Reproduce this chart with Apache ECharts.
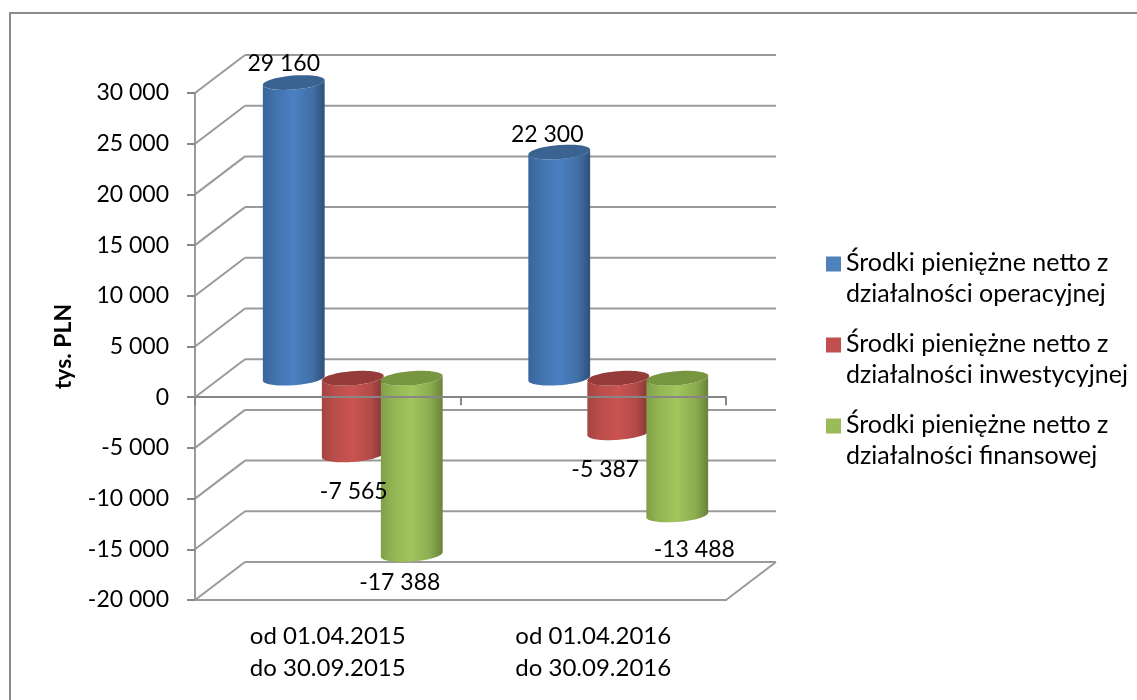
<!DOCTYPE html>
<html>
<head>
<meta charset="utf-8">
<style>html,body{margin:0;padding:0;background:#fff}#c{width:1137px;height:700px}</style>
<script src="https://cdn.jsdelivr.net/npm/echarts@6/dist/echarts.min.js"></script>
</head>
<body>
<div id="c"></div>
<script>
var categories = ['od 01.04.2015\ndo 30.09.2015', 'od 01.04.2016\ndo 30.09.2016'];
var seriesNames = [
  'Środki pieniężne netto z\ndziałalności operacyjnej',
  'Środki pieniężne netto z\ndziałalności inwestycyjnej',
  'Środki pieniężne netto z\ndziałalności finansowej'
];
var operacyjna = [29160, 22300];
var inwestycyjna = [-7565, -5387];
var finansowa = [-17388, -13488];
var yTicks = [30000, 25000, 20000, 15000, 10000, 5000, 0, -5000, -10000, -15000, -20000];

// label nudges relative to the cylinder end (dx, dy in px)
var labelNudgeOp = [[-10, -19], [-12, -17]];
var labelNudgeIn = [[1, 37], [-13, 37]];
var labelNudgeFi = [[-12, 28], [17, 35]];

var FONT = 'Lato';
var DEPTH_X = 50, DEPTH_Y = -38;   // full depth of the box
var MID_X = 25, MID_Y = -19;       // cylinders stand mid depth
var RX = 31, RY = 7, TILT = -4.5 * Math.PI / 180;
var STEP = 59;

function fmt(v) {
  var s = String(Math.abs(v)).replace(/\B(?=(\d{3})+$)/g, ' ');
  return (v < 0 ? '-' : '') + s;
}

function ell(cx, cy, a0, a1, n) {
  var pts = [];
  for (var i = 0; i <= n; i++) {
    var a = a0 + (a1 - a0) * i / n;
    var x = RX * Math.cos(a), y = RY * Math.sin(a);
    pts.push([cx + x * Math.cos(TILT) - y * Math.sin(TILT), cy + x * Math.sin(TILT) + y * Math.cos(TILT)]);
  }
  return pts;
}

function grad(stops) {
  return new echarts.graphic.LinearGradient(0, 0, 1, 0, stops);
}

function points(values) {
  return values.map(function (v, i) { return [i, v]; });
}

function cylinderSeries(name, values, idx, colors) {
  return {
    name: name,
    type: 'custom',
    z: 3 + idx,
    itemStyle: { color: colors.legend },
    data: points(values),
    encode: { x: 0, y: 1 },
    clip: false,
    renderItem: function (params, api) {
      var i = api.value(0), v = api.value(1);
      var base = api.coord([i, 0]);
      var end = api.coord([i, v]);
      var cx = base[0] + MID_X + (idx - 1) * STEP;
      var y0 = base[1] + MID_Y, y1 = end[1] + MID_Y;
      var top = Math.min(y0, y1), bot = Math.max(y0, y1);
      var body = ell(cx, top, Math.PI, 0, 40).concat(ell(cx, bot, 0, Math.PI, 40));
      return {
        type: 'group',
        children: [
          { type: 'polygon', shape: { points: body }, style: { fill: grad(colors.body) } },
          { type: 'polygon', shape: { points: ell(cx, top, 0, Math.PI * 2, 60) }, style: { fill: colors.cap } }
        ]
      };
    }
  };
}

function labelSeries(values, idx, nudges) {
  return {
    type: 'custom',
    z: 20,
    silent: true,
    data: points(values),
    encode: { x: 0, y: 1 },
    clip: false,
    renderItem: function (params, api) {
      var i = api.value(0), v = api.value(1);
      var base = api.coord([i, 0]);
      var end = api.coord([i, v]);
      var n = nudges[i];
      return { type: 'text', style: {
        x: base[0] + MID_X + (idx - 1) * STEP + n[0],
        y: end[1] + MID_Y + n[1],
        text: fmt(v), align: 'center', verticalAlign: 'middle',
        font: '23px ' + FONT, fill: '#000'
      } };
    }
  };
}

var wallSeries = {
  type: 'custom',
  silent: true,
  z: 1,
  clip: false,
  data: yTicks.map(function (t) { return [t]; }),
  encode: { y: 0 },
  renderItem: function (params, api) {
    var t = api.value(0);
    var p0 = api.coord([0, t]);
    var sz = api.size([1, 0]);
    var x0 = p0[0] - sz[0] / 2, y = p0[1];
    var x1 = x0 + sz[0] * categories.length;
    var ls = { stroke: '#9a9a9a', lineWidth: 2, fill: null };
    var kids = [
      { type: 'line', shape: { x1: x0, y1: y, x2: x0 + DEPTH_X, y2: y + DEPTH_Y }, style: ls },
      { type: 'line', shape: { x1: x0 + DEPTH_X, y1: y + DEPTH_Y, x2: x1 + DEPTH_X, y2: y + DEPTH_Y }, style: ls }
    ];
    if (t === yTicks[yTicks.length - 1]) {
      kids.push({ type: 'line', shape: { x1: x1, y1: y, x2: x1 + DEPTH_X, y2: y + DEPTH_Y }, style: ls });
    }
    return { type: 'group', children: kids };
  }
};

var blue = { legend: '#4f81bd', cap: '#3a6391',
  body: [{offset:0,color:'#38659a'},{offset:0.2,color:'#4273ae'},{offset:0.5,color:'#4a80c2'},{offset:0.8,color:'#416fa6'},{offset:1,color:'#2f5179'}] };
var red = { legend: '#c0504d', cap: '#953b39',
  body: [{offset:0,color:'#a44441'},{offset:0.2,color:'#b94d4a'},{offset:0.5,color:'#cb5451'},{offset:0.8,color:'#b04a47'},{offset:1,color:'#823534'}] };
var green = { legend: '#9bbb59', cap: '#78953f',
  body: [{offset:0,color:'#81a048'},{offset:0.2,color:'#93b453'},{offset:0.5,color:'#a2c55d'},{offset:0.8,color:'#8cab4f'},{offset:1,color:'#69833a'}] };

var chart = echarts.init(document.getElementById('c'), null, { renderer: 'canvas' });
chart.setOption({
  animation: false,
  backgroundColor: '#ffffff',
  graphic: [{
    type: 'rect', silent: true, z: -1,
    shape: { x: 10, y: 13, width: 1200, height: 800 },
    style: { fill: '#fff', stroke: '#8c8c8c', lineWidth: 2 }
  }],
  grid: { left: 195, right: 411, top: 93, bottom: 100, containLabel: false },
  legend: {
    left: 821,
    top: 242,
    orient: 'vertical',
    itemWidth: 15,
    itemHeight: 43,
    itemGap: 19,
    icon: 'path://M0 0H15V15H0Z M0 43H0.01V43.01H0Z',
    selectedMode: false,
    data: seriesNames,
    textStyle: { fontFamily: FONT, fontSize: 25, lineHeight: 31, color: '#000' }
  },
  xAxis: [{
    type: 'category', data: categories, position: 'bottom',
    boundaryGap: true, z: 10,
    axisLine: { onZero: true, lineStyle: { color: '#868686', width: 2 } },
    axisTick: { show: true, length: 8, lineStyle: { color: '#868686', width: 2 } },
    axisLabel: { show: false },
    splitLine: { show: false }
  }, {
    type: 'category', data: categories, position: 'bottom',
    boundaryGap: true, z: 1,
    axisLine: { onZero: false, lineStyle: { color: '#9a9a9a', width: 2 } },
    axisTick: { show: false },
    axisLabel: { show: true, margin: 20, fontFamily: FONT, fontSize: 24, lineHeight: 32, color: '#000' },
    splitLine: { show: false }
  }],
  yAxis: {
    type: 'value', min: -20000, max: 30000, interval: 5000,
    name: 'tys. PLN', nameLocation: 'middle', nameRotate: 90, nameGap: 120,
    nameTextStyle: { fontFamily: FONT, fontSize: 23, fontWeight: 'bold', color: '#000' },
    axisLine: { show: true, lineStyle: { color: '#9a9a9a', width: 2 } },
    axisTick: { show: true, length: 8, lineStyle: { color: '#868686', width: 2 } },
    axisLabel: { margin: 26, fontFamily: FONT, fontSize: 23, color: '#000', formatter: fmt },
    splitLine: { show: false }
  },
  series: [
    wallSeries,
    cylinderSeries(seriesNames[0], operacyjna, 0, blue),
    cylinderSeries(seriesNames[1], inwestycyjna, 1, red),
    cylinderSeries(seriesNames[2], finansowa, 2, green),
    labelSeries(operacyjna, 0, labelNudgeOp),
    labelSeries(inwestycyjna, 1, labelNudgeIn),
    labelSeries(finansowa, 2, labelNudgeFi)
  ]
});
</script>
</body>
</html>
